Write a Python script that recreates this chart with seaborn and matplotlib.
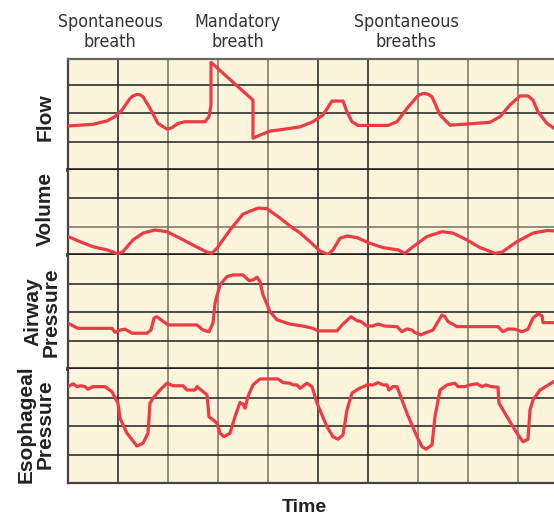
import matplotlib
matplotlib.use("Agg")
import matplotlib.pyplot as plt
import seaborn as sns
import pandas as pd

# --- Data (time in grid units, 50 per major column; amplitude in grid rows) ---
flow_t = [0, 25, 39, 47, 54, 62, 65, 69, 72, 75, 82, 90, 99, 104, 110, 117, 137, 141, 143, 143,
          185, 185, 192, 202, 215, 232, 245, 255, 264, 275, 279, 284, 290, 320, 329, 339,
          349, 352, 356, 360, 364, 372, 382, 399, 422, 432, 442, 452, 460, 465, 470, 479, 486]
flow_v = [1.55, 1.61, 1.73, 1.88, 2.11, 2.52, 2.61, 2.66, 2.65, 2.58, 2.17, 1.64, 1.44, 1.49,
          1.64, 1.70, 1.70, 1.88, 2.29, 3.79, 2.46, 1.12, 1.23, 1.37, 1.43, 1.52, 1.70, 1.94,
          2.43, 2.43, 2.05, 1.70, 1.57, 1.57, 1.70, 2.17, 2.58, 2.66, 2.70, 2.67, 2.58, 1.94,
          1.58, 1.62, 1.68, 1.88, 2.29, 2.61, 2.61, 2.46, 2.05, 1.64, 1.47]

volume_t = [0, 12, 25, 39, 50, 55, 65, 75, 87, 99, 112, 125, 139, 144, 149, 162, 175, 190,
            199, 212, 225, 232, 238, 242, 252, 260, 265, 272, 279, 289, 302, 315, 330, 337,
            345, 359, 374, 385, 399, 412, 427, 434, 449, 465, 479, 486]
volume_v = [0.65, 0.47, 0.29, 0.18, 0.04, 0.12, 0.53, 0.77, 0.88, 0.82, 0.59, 0.35, 0.10,
            0.06, 0.24, 0.88, 1.44, 1.65, 1.63, 1.30, 0.94, 0.78, 0.59, 0.47, 0.14, 0.02,
            0.18, 0.59, 0.67, 0.61, 0.41, 0.26, 0.18, 0.06, 0.29, 0.65, 0.82, 0.77, 0.53,
            0.26, 0.06, 0.10, 0.47, 0.77, 0.86, 0.85]

airway_t = [0, 10, 44, 47, 52, 57, 64, 79, 83, 86, 89, 93, 100, 129, 135, 141, 145, 147,
            152, 159, 165, 175, 181, 185, 189, 192, 195, 202, 209, 222, 235, 245, 250, 269,
            275, 283, 289, 293, 299, 304, 310, 317, 329, 334, 339, 344, 347, 353, 358, 365,
            369, 374, 377, 380, 389, 430, 435, 440, 447, 454, 460, 465, 470, 474, 475, 486]
airway_v = [1.61, 1.43, 1.43, 1.29, 1.37, 1.40, 1.26, 1.26, 1.37, 1.79, 1.84, 1.73, 1.55,
            1.55, 1.37, 1.31, 1.61, 2.31, 2.96, 3.25, 3.31, 3.31, 3.11, 3.13, 3.23, 3.07,
            2.61, 2.02, 1.73, 1.58, 1.51, 1.43, 1.34, 1.34, 1.58, 1.84, 1.70, 1.67, 1.51,
            1.51, 1.58, 1.51, 1.49, 1.31, 1.41, 1.37, 1.28, 1.20, 1.28, 1.37, 1.61, 1.90,
            1.84, 1.67, 1.49, 1.49, 1.31, 1.41, 1.40, 1.31, 1.40, 1.79, 1.94, 1.87, 1.63, 1.63]

esoph_t = [0, 5, 9, 13, 17, 20, 25, 37, 44, 50, 52, 59, 69, 75, 80, 82, 85, 92, 99, 105,
           115, 119, 127, 129, 139, 141, 145, 149, 152, 156, 162, 167, 172, 175, 177, 180,
           185, 192, 210, 215, 222, 225, 229, 232, 239, 244, 249, 259, 265, 270, 275, 279,
           284, 290, 299, 305, 310, 315, 319, 321, 325, 329, 339, 349, 354, 358, 364, 367,
           372, 379, 387, 390, 397, 402, 409, 414, 418, 423, 430, 431, 439, 449, 455, 460,
           462, 465, 472, 486]
esoph_v = [3.39, 3.49, 3.39, 3.42, 3.39, 3.30, 3.39, 3.39, 3.21, 2.81, 2.28, 1.75, 1.30,
           1.40, 1.75, 2.81, 2.98, 3.27, 3.51, 3.42, 3.42, 3.27, 3.27, 3.39, 3.10, 2.33,
           2.22, 2.10, 1.75, 1.63, 1.75, 2.33, 2.83, 2.78, 2.63, 3.04, 3.45, 3.66, 3.66,
           3.53, 3.51, 3.45, 3.45, 3.33, 3.51, 3.39, 2.81, 1.98, 1.63, 1.54, 1.69, 2.57,
           3.16, 3.30, 3.45, 3.45, 3.53, 3.45, 3.45, 3.27, 3.39, 3.39, 2.45, 1.63, 1.28,
           1.19, 1.34, 2.33, 3.27, 3.45, 3.51, 3.39, 3.39, 3.45, 3.49, 3.39, 3.45, 3.39,
           3.37, 2.81, 2.33, 1.75, 1.45, 1.54, 2.57, 2.92, 3.27, 3.57]

panel_labels = ["Flow", "Volume", "Airway\nPressure", "Esophageal\nPressure"]
panel_rows = [3.91, 2.99, 4.01, 4.01]
annotations = ["Spontaneous\nbreath", "Mandatory\nbreath", "Spontaneous\nbreaths"]

# --- Style ---
sns.set_style("white")
plt.rcParams["font.family"] = ["Liberation Sans", "DejaVu Sans"]

RED = "#ee3a45"
CREAM = "#fdf4dc"
DARK = "#1f1f1f"
GRAY = "#7a7065"

fig = plt.figure(figsize=(5.54, 5.16), dpi=100)
gs = fig.add_gridspec(4, 1, height_ratios=[111, 85, 114, 114], hspace=0,
                      left=68 / 554, right=1.0, top=1 - 59 / 516, bottom=1 - 483 / 516)

series = [(flow_t, flow_v), (volume_t, volume_v), (airway_t, airway_v), (esoph_t, esoph_v)]
vcolors = [DARK, GRAY, GRAY, GRAY, DARK, DARK, GRAY, GRAY, GRAY]

axes = []
for i, (t, v) in enumerate(series):
    ax = fig.add_subplot(gs[i])
    ax.set_facecolor(CREAM)
    ax.set_xlim(0, 486)
    ax.set_ylim(0, panel_rows[i])

    # grid
    for k, c in zip(range(50, 486, 50), vcolors):
        ax.axvline(k, color=c, lw=1.1, zorder=1)
    for r in range(1, int(panel_rows[i] + 0.5)):
        hc = GRAY if (i == 1 and r == 1) else DARK
        ax.axhline(r, color=hc, lw=1.1, zorder=1)

    df = pd.DataFrame({"t": t, "v": v})
    sns.lineplot(data=df, x="t", y="v", sort=False, estimator=None,
                 color=RED, lw=2.3, ax=ax, zorder=3)

    ax.set_xticks([])
    ax.set_yticks([])
    ax.set_xlabel("")
    ax.set_ylabel("")
    ax.spines["right"].set_visible(False)
    ax.spines["left"].set_color("#444444")
    ax.spines["left"].set_linewidth(1.6)
    if i == 0:
        ax.spines["top"].set_color("#666666")
        ax.spines["top"].set_linewidth(1.6)
    else:
        ax.spines["top"].set_visible(False)
    if i < 3:
        ax.spines["bottom"].set_color(DARK)
        ax.spines["bottom"].set_linewidth(2.6)
    else:
        ax.spines["bottom"].set_color("#444444")
        ax.spines["bottom"].set_linewidth(1.6)
    axes.append(ax)

# panel labels on the left
label_pos = [(45, 117), (45, 209), (42, 312), (36, 424)]
for lab, (x, y) in zip(panel_labels, label_pos):
    fig.text(x / 554, 1 - y / 516, lab, rotation=90, ha="center", va="center",
             fontsize=15, fontweight="bold", color="#222222", linespacing=1.0,
             multialignment="center")

# annotations on top (condensed face)
ann_x = [110, 238, 406]
for txt, x in zip(annotations, ann_x):
    fig.text(x / 554, 1 - 32 / 516, txt, ha="center", va="center", fontsize=12.8,
             color="#333333", linespacing=1.2, family="DejaVu Sans",
             fontstretch="condensed")

fig.text(304 / 554, 1 - 507 / 516, "Time", ha="center", va="center",
         fontsize=14, fontweight="bold", color="#222222")

fig.savefig("out.png", dpi=100, facecolor="white")
